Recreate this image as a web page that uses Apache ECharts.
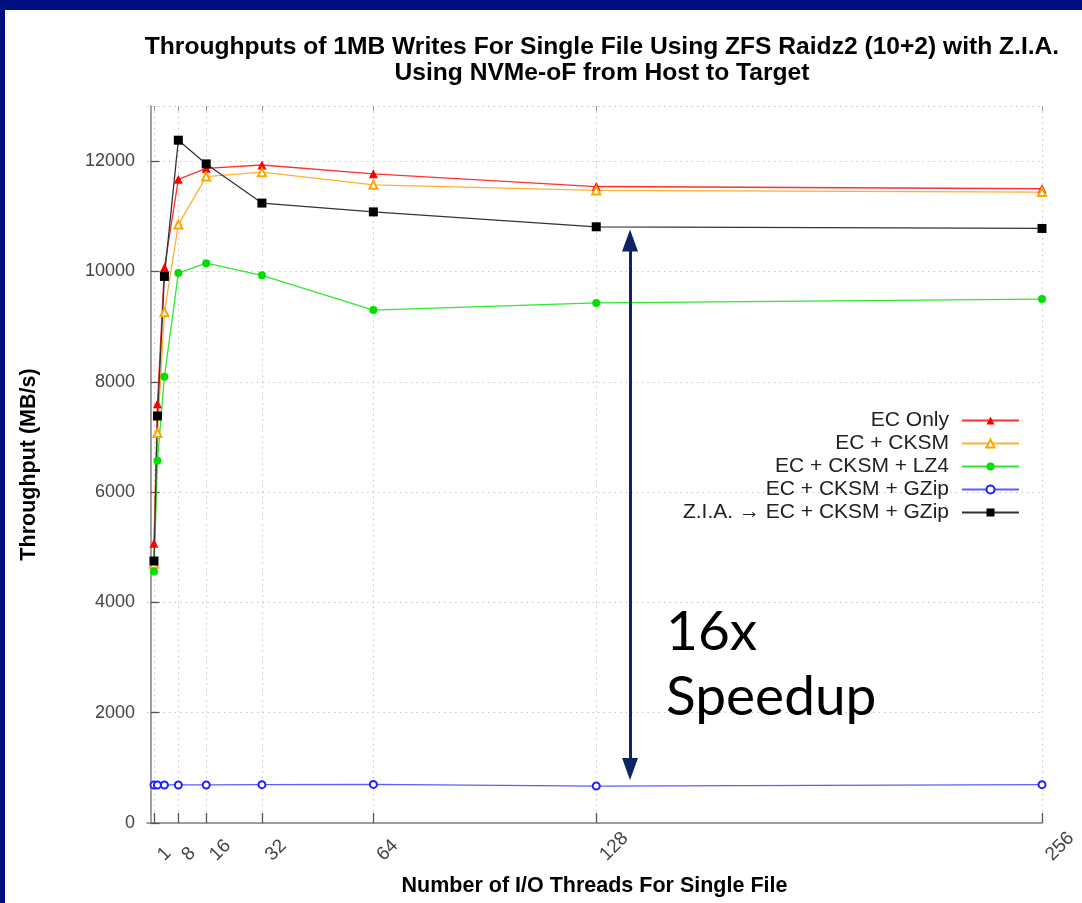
<!DOCTYPE html>
<html>
<head>
<meta charset="utf-8">
<script src="https://cdn.jsdelivr.net/npm/echarts@6/dist/echarts.min.js"></script>
<style>
  html, body { margin: 0; padding: 0; background: #fff; }
  #wrap { position: relative; width: 1082px; height: 903px; }
  #chart { position: absolute; left: 0; top: 0; width: 1082px; height: 903px; }
  #bt { position: absolute; left: 0; top: 0; width: 1082px; height: 10px; background: #000f80; }
  #bl { position: absolute; left: 0; top: 0; width: 5px; height: 903px; background: #000f80; }
</style>
</head>
<body>
<div id="wrap"><div id="chart"></div><div id="bt"></div><div id="bl"></div></div>
<script>
// ---- data ----
const threads = [1, 2, 4, 8, 16, 32, 64, 128, 256];
const xTickValues = [1, 8, 16, 32, 64, 128, 256];
const seriesNames = ['EC Only', 'EC + CKSM', 'EC + CKSM + LZ4', 'EC + CKSM + GZip', 'Z.I.A. \u2192 EC + CKSM + GZip'];
const ecOnly   = [5070, 7600, 10070, 11670, 11870, 11930, 11770, 11540, 11500];
const ecCksm   = [4700, 7070, 9260, 10850, 11720, 11800, 11570, 11470, 11440];
const ecLz4    = [4560, 6570, 8090, 9970, 10150, 9930, 9300, 9430, 9500];
const ecGzip   = [690, 690, 690, 690, 690, 695, 700, 670, 695];
const ziaGzip  = [4750, 7380, 9910, 12380, 11950, 11240, 11080, 10810, 10780];
const speedupArrow = { x: 137.7, yTop: 10560, yBottom: 980 };
const titleLines = ['Throughputs of 1MB Writes For Single File Using ZFS Raidz2 (10+2) with Z.I.A.', 'Using NVMe-oF from Host to Target'];
const xName = 'Number of I/O Threads For Single File';
const yName = 'Throughput (MB/s)';
const annotation = ['16x', 'Speedup'];

const pairs = arr => threads.map((t, i) => [t, arr[i]]);

const chart = echarts.init(document.getElementById('chart'), null, { renderer: 'canvas' });

function mkSeries(name, data, symbol, size, lineColor, markColor, extra) {
  return Object.assign({
    name: name,
    type: 'line',
    data: pairs(data),
    symbol: symbol,
    symbolSize: size,
    showAllSymbol: true,
    lineStyle: { color: lineColor, width: 1.3 },
    itemStyle: { color: markColor, borderColor: markColor, borderWidth: symbol.indexOf('empty') === 0 ? 1.3 : 0 },
    emphasis: { disabled: true },
    animation: false,
    z: 3
  }, extra || {});
}

const option = {
  animation: false,
  backgroundColor: '#ffffff',
  title: {
    text: titleLines.join('\n'),
    left: 597,
    top: 29,
    textAlign: 'center',
    textStyle: { fontFamily: 'Liberation Sans', fontWeight: 'bold', fontSize: 24.6, lineHeight: 26, color: '#000' }
  },
  grid: { left: 147, right: 40, top: 106, bottom: 80, containLabel: false },
  legend: {
    orient: 'vertical',
    right: 57,
    top: 405,
    align: 'right',
    itemWidth: 57,
    itemHeight: 10,
    itemGap: 2,
    data: seriesNames,
    textStyle: { fontFamily: 'Liberation Sans', fontSize: 21, color: '#222', padding: [0, 8, 0, 0] }
  },
  xAxis: [{
    type: 'value',
    min: -1,
    max: 256,
    name: xName,
    nameLocation: 'middle',
    nameGap: 52,
    nameTextStyle: { fontFamily: 'Liberation Sans', fontWeight: 'bold', fontSize: 21.5, color: '#000' },
    axisLine: { show: true, lineStyle: { color: '#808080', width: 1.5 } },
    axisTick: { show: true, inside: true, length: 10, customValues: xTickValues, lineStyle: { color: '#555', width: 1.3 } },
    axisLabel: { customValues: xTickValues, rotate: 45, align: 'left', verticalAlign: 'top', margin: 28, fontFamily: 'Liberation Sans', fontSize: 19, color: '#444' },
    splitLine: { show: true, lineStyle: { color: '#c4c4c4', width: 1, type: [1.5, 4] } }
  }, {
    type: 'value',
    position: 'top',
    min: -1,
    max: 256,
    axisLine: { show: false },
    axisTick: { show: true, inside: true, length: 5, customValues: xTickValues, lineStyle: { color: '#999', width: 1 } },
    axisLabel: { show: false },
    splitLine: { show: false }
  }],
  yAxis: {
    type: 'value',
    min: 0,
    max: 13000,
    interval: 2000,
    name: yName,
    nameLocation: 'middle',
    nameGap: 107,
    nameTextStyle: { fontFamily: 'Liberation Sans', fontWeight: 'bold', fontSize: 21.5, color: '#000' },
    axisLine: { show: true, lineStyle: { color: '#808080', width: 1.5 } },
    axisTick: { show: true, inside: true, length: 9, lineStyle: { color: '#555', width: 1.3 } },
    axisLabel: { showMaxLabel: false, margin: 12, fontFamily: 'Liberation Sans', fontSize: 18, color: '#444', formatter: v => String(v) },
    splitLine: { show: true, lineStyle: { color: '#c4c4c4', width: 1, type: [1.5, 4] } }
  },
  series: [
    mkSeries(seriesNames[0], ecOnly, 'triangle', 9, '#ff3030', '#ff0000'),
    mkSeries(seriesNames[1], ecCksm, 'emptyTriangle', 8, '#ffb030', '#ffa500'),
    mkSeries(seriesNames[2], ecLz4, 'circle', 8, '#30e830', '#00e000'),
    mkSeries(seriesNames[3], ecGzip, 'emptyCircle', 7, '#5c5cff', '#2020ff'),
    mkSeries(seriesNames[4], ziaGzip, 'rect', 9, '#333333', '#000000', {
      markLine: {
        silent: true,
        animation: false,
        symbol: ['triangle', 'triangle'],
        symbolSize: [16, 22],
        label: { show: false },
        lineStyle: { color: '#0c2462', width: 3, type: 'solid' },
        itemStyle: { color: '#0c2462' },
        emphasis: { disabled: true },
        data: [[{ coord: [speedupArrow.x, speedupArrow.yTop] }, { coord: [speedupArrow.x, speedupArrow.yBottom] }]]
      }
    })
  ],
  graphic: [
    { type: 'text', left: 666, top: 605, style: { text: annotation[0], font: '55px Lato', fill: '#000' }, z: 10 },
    { type: 'text', left: 666, top: 670, style: { text: annotation[1], font: '55px Lato', fill: '#000' }, z: 10 }
  ]
};
chart.setOption(option);
</script>
</body>
</html>
